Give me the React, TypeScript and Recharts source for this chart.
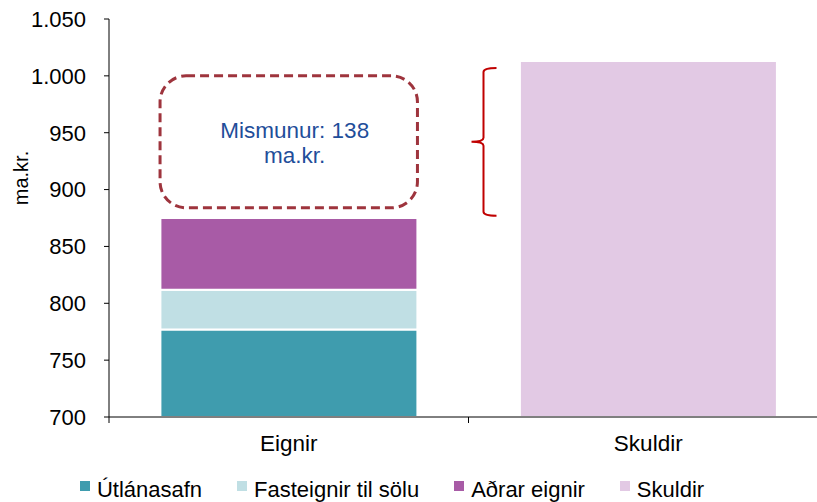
import { BarChart, Bar, XAxis, YAxis, Legend, ReferenceArea, ReferenceLine } from 'recharts'

const categories = ['Eignir', 'Skuldir']
const utlanasafn = [777, 0]
const fasteignir = [35, 0]
const adrarEignir = [63, 0]
const skuldir = [0, 1013]
const yTicks = [700, 750, 800, 850, 900, 950, 1000, 1050]

const FONT = '"Liberation Sans", Arial, sans-serif'

const series = [
  { key: 'utlanasafn', name: 'Útlánasafn', color: '#3f9cae', values: utlanasafn },
  { key: 'fasteignir', name: 'Fasteignir til sölu', color: '#c0dfe4', values: fasteignir },
  { key: 'adrar', name: 'Aðrar eignir', color: '#a85ba6', values: adrarEignir },
  { key: 'skuldir', name: 'Skuldir', color: '#e2c9e4', values: skuldir }
]

const data = categories.map((name, i) => {
  const row: Record<string, any> = { name }
  series.forEach((s) => { row[s.key] = s.values[i] })
  return row
})

const assets = utlanasafn[0] + fasteignir[0] + adrarEignir[0]
const debts = skuldir[1]
const diff = debts - assets

const fmt = (v: number) => String(v).replace(/\B(?=(\d{3})+(?!\d))/g, '.')

function DiffBox(props: any) {
  const { x, y, width, height } = props
  const inset = width * 0.142
  const bx = x + inset
  const bw = width - inset * 2
  const cx = bx + bw / 2 + 6
  const cy = y + height / 2
  return (
    <g>
      <rect x={bx} y={y} width={bw} height={height} rx={26} ry={26}
        fill="none" stroke="#9e343d" strokeWidth={3} strokeDasharray="9 5" />
      <text x={cx} y={cy - 4} textAnchor="middle" fill="#1f4e9a" fontSize={22.5} fontFamily={FONT}>
        Mismunur: {diff}
      </text>
      <text x={cx} y={cy + 21} textAnchor="middle" fill="#1f4e9a" fontSize={22.5} fontFamily={FONT}>
        ma.kr.
      </text>
    </g>
  )
}

function Brace(props: any) {
  const { x, y, height } = props
  const xv = x + 15
  const ym = y + height / 2
  const yb = y + height
  const d = `M${x + 28},${y} Q${xv},${y} ${xv},${y + 4} L${xv},${ym - 4} Q${xv},${ym} ${x + 3},${ym}`
    + ` Q${xv},${ym} ${xv},${ym + 4} L${xv},${yb - 4} Q${xv},${yb} ${x + 28},${yb}`
  return <path d={d} fill="none" stroke="#c00000" strokeWidth={2} />
}

function BoundaryTick(props: any) {
  const bottom = Math.max(props.y1, props.y2)
  return <line x1={props.x1} x2={props.x1} y1={bottom} y2={bottom + 6} stroke="#000" strokeWidth={1} />
}

// legend keeps the series order (recharts sorts its payload)
function LegendContent() {
  return (
    <div style={{
      height: 45, boxSizing: 'border-box', paddingTop: 21, paddingRight: 44,
      display: 'flex', justifyContent: 'center', fontFamily: FONT, fontSize: 22, lineHeight: '22px', color: '#000'
    }}>
      {series.map((s, i) => (
        <span key={s.key} style={{ display: 'flex', alignItems: 'center', marginLeft: i ? 35 : 0 }}>
          <span style={{ width: 10, height: 10, background: s.color, marginRight: 7, position: 'relative', top: -4 }} />
          {s.name}
        </span>
      ))}
    </div>
  )
}

export default function App() {
  return (
    <div style={{ position: 'absolute', left: 0, top: 0, width: 817, height: 502, overflow: 'hidden', background: '#fff', fontFamily: FONT }}>
      <BarChart width={828} height={502} data={data} barCategoryGap="14.3%"
        margin={{ top: 19, right: 0, left: 0, bottom: 0 }}>
        <XAxis dataKey="name" height={40} tickLine={false} tickSize={0} tickMargin={18}
          axisLine={{ stroke: '#000' }} tick={{ fill: '#000', fontSize: 22.5, fontFamily: FONT }} />
        <YAxis type="number" domain={[700, 1050]} ticks={yTicks} allowDataOverflow width={109}
          tickSize={5} tickMargin={18} tickFormatter={fmt} interval={0}
          axisLine={{ stroke: '#000' }} tickLine={{ stroke: '#000' }}
          tick={{ fill: '#000', fontSize: 22, fontFamily: FONT }}
          label={{
            content: () => (
              <text x={21} y={178} transform="rotate(-90 21 178)" textAnchor="middle"
                dominantBaseline="central" fontSize={20} fontFamily={FONT} fill="#000">ma.kr.</text>
            )
          }} />
        {series.map((s) => (
          <Bar key={s.key} dataKey={s.key} name={s.name} stackId="a" fill={s.color}
            stroke="#fff" strokeWidth={2} isAnimationActive={false} />
        ))}
        <ReferenceArea x1="Eignir" x2="Eignir" y1={884} y2={1000} shape={<DiffBox />} />
        <ReferenceArea x1="Skuldir" x2="Skuldir" y1={877} y2={1007} shape={<Brace />} />
        <ReferenceLine x="Eignir" position="start" shape={<BoundaryTick />} />
        <ReferenceLine x="Skuldir" position="start" shape={<BoundaryTick />} />
        <Legend verticalAlign="bottom" height={45} content={<LegendContent />} />
      </BarChart>
    </div>
  )
}
